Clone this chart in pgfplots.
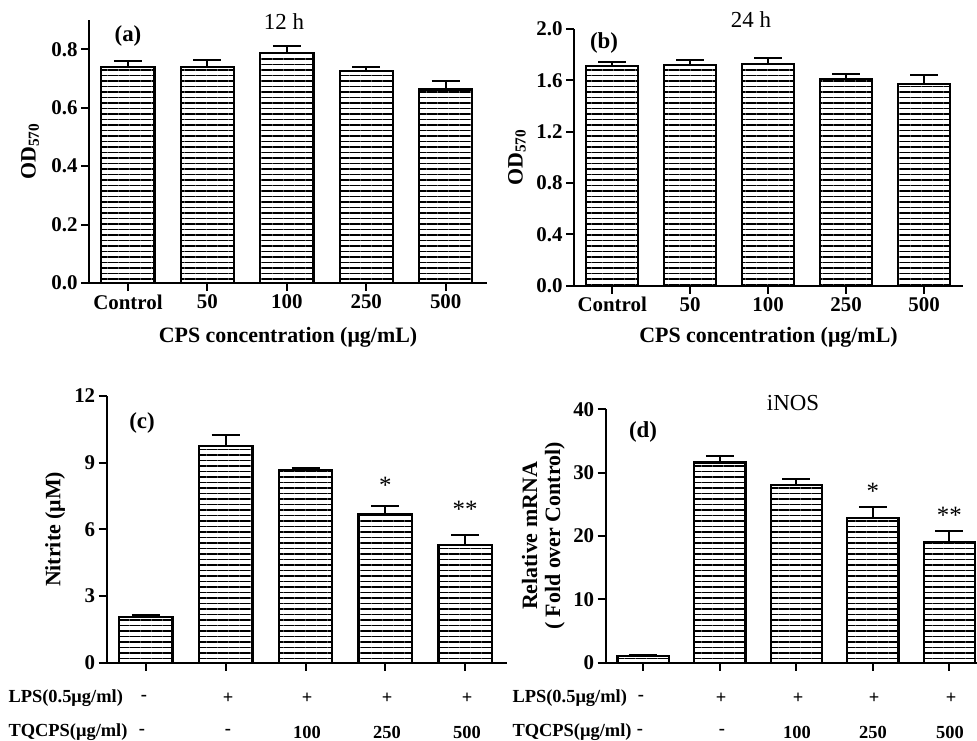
\documentclass[border=0pt]{standalone}
\usepackage{fontspec}
\setmainfont{Liberation Serif}
\usepackage{pgfplots}
\pgfplotsset{compat=1.18}
\usetikzlibrary{patterns.meta}

\pgfplotsset{
  panel/.style={
    scale only axis, anchor=south west,
    ybar, bar shift=0, bar width=0.67,
    axis x line*=bottom, axis y line*=left,
    axis line style={line width=2bp,-},
    tick align=outside, major tick length=8bp,
    every tick/.style={line width=2bp,black},
    xtick={0,1,2,3,4}, ytick pos=left, xtick pos=bottom,
    ymin=0,
    /pgf/number format/assume math mode=true,
    ticklabel style={font=\fontsize{21}{21}\selectfont\bfseries},
    label style={font=\fontsize{22}{23}\selectfont\bfseries, anchor=center},
  },
  hbar/.style={draw=black, line width=2.2bp,
    pattern={Lines[angle=0,distance=5.5bp,line width=1.1bp]}, pattern color=black,
    error bars/.cd, y dir=plus, y explicit, error mark=|,
    error bar style={line width=2bp,black},
    error mark options={line width=2bp,black,mark size=14bp}},
}

\pgfplotstableread{
x y e
0 0.738 0.022
1 0.738 0.024
2 0.788 0.022
3 0.726 0.013
4 0.662 0.029
}\dataA
\pgfplotstableread{
x y e
0 1.710 0.031
1 1.720 0.037
2 1.728 0.047
3 1.609 0.041
4 1.574 0.066
}\dataB
\pgfplotstableread{
x y e
0 2.04 0.09
1 9.76 0.49
2 8.68 0.10
3 6.67 0.40
4 5.30 0.45
}\dataC
\pgfplotstableread{
x y e
0 1.06 0.10
1 31.6 1.0
2 28.05 0.9
3 22.8 1.8
4 19.1 1.75
}\dataD

\begin{document}
\begin{tikzpicture}
\useasboundingbox (0bp,0bp) rectangle (977bp,-741bp);

% (a) 12 h
\begin{axis}[panel, at={(89bp,-283bp)}, width=398bp, height=263bp,
  xmin=-0.49, xmax=4.52, ymax=0.9,
  ytick={0,0.2,0.4,0.6,0.8},
  yticklabel style={/pgf/number format/.cd,fixed,fixed zerofill,precision=1},
  xticklabels={Control,50,100,250,500},
  ylabel={OD$_{\mathbf{570}}$}, ylabel style={at={(axis description cs:-0.148,0.5)}},
  xlabel={CPS concentration (μg/mL)}, xlabel style={at={(axis description cs:0.5,-0.205)}}]
\addplot[hbar] table[x=x,y=y,y error=e] {\dataA};
\end{axis}
\node[font=\fontsize{23}{23}\selectfont] at (284bp,-22bp) {12 h};
\node[font=\fontsize{23}{23}\selectfont\bfseries] at (128bp,-36bp) {(a)};

% (b) 24 h
\begin{axis}[panel, at={(574bp,-285.7bp)}, width=389bp, height=256.7bp,
  xmin=-0.49, xmax=4.5, ymax=2,
  ytick={0,0.4,0.8,1.2,1.6,2.0},
  yticklabel style={/pgf/number format/.cd,fixed,fixed zerofill,precision=1},
  xticklabels={Control,50,100,250,500},
  ylabel={OD$_{\mathbf{570}}$}, ylabel style={at={(axis description cs:-0.1465,0.5)}},
  xlabel={CPS concentration (μg/mL)}, xlabel style={at={(axis description cs:0.5,-0.2)}}]
\addplot[hbar] table[x=x,y=y,y error=e] {\dataB};
\end{axis}
\node[font=\fontsize{23}{23}\selectfont] at (751bp,-20bp) {24 h};
\node[font=\fontsize{23}{23}\selectfont\bfseries] at (604bp,-43bp) {(b)};

% (c) nitrite
\begin{axis}[panel, at={(106.7bp,-662.7bp)}, width=400bp, height=266.7bp,
  xmin=-0.49, xmax=4.52, ymax=12,
  ytick={0,3,6,9,12},
  xticklabels={},
  ylabel={Nitrite (μM)}, ylabel style={at={(axis description cs:-0.129,0.5)}}]
\addplot[hbar] table[x=x,y=y,y error=e] {\dataC};
\node[font=\fontsize{25}{25}\selectfont] at (axis cs:3,8.0) {*};
\node[font=\fontsize{25}{25}\selectfont] at (axis cs:4,6.9) {**};
\end{axis}
\node[font=\fontsize{23}{23}\selectfont\bfseries] at (142bp,-423bp) {(c)};

% (d) iNOS
\begin{axis}[panel, at={(605.7bp,-662.7bp)}, width=371.3bp, height=253.4bp,
  xmin=-0.49, xmax=4.36, ymax=40,
  ytick={0,10,20,30,40},
  xticklabels={},
  ylabel={Relative mRNA\\( Fold over Control)},
  ylabel style={align=center, at={(axis description cs:-0.168,0.5)}}]
\addplot[hbar] table[x=x,y=y,y error=e] {\dataD};
\node[font=\fontsize{25}{25}\selectfont] at (axis cs:3,27.0) {*};
\node[font=\fontsize{25}{25}\selectfont] at (axis cs:4,23.3) {**};
\end{axis}
\node[font=\fontsize{23}{23}\selectfont] at (793bp,-403bp) {iNOS};
\node[font=\fontsize{23}{23}\selectfont\bfseries] at (643bp,-432bp) {(d)};

% treatment rows under (c) and (d)
\begin{scope}[every node/.style={font=\fontsize{18.5}{18.5}\selectfont\bfseries}]
\node[anchor=west] at (5bp,-698bp) {LPS(0.5μg/ml)};
\node[anchor=west] at (5bp,-732bp) {TQCPS(μg/ml)};
\node at (144bp,-698bp) {-}; \node at (228bp,-698bp) {+}; \node at (307bp,-698bp) {+};
\node at (387bp,-698bp) {+}; \node at (467bp,-698bp) {+};
\node at (142bp,-732bp) {-}; \node at (228bp,-732bp) {-}; \node at (307bp,-732bp) {100};
\node at (387bp,-732bp) {250}; \node at (467bp,-732bp) {500};
\node[anchor=west] at (509bp,-698bp) {LPS(0.5μg/ml)};
\node[anchor=west] at (509bp,-732bp) {TQCPS(μg/ml)};
\node at (641bp,-698bp) {-}; \node at (721bp,-698bp) {+}; \node at (798bp,-698bp) {+};
\node at (874bp,-698bp) {+}; \node at (951bp,-698bp) {+};
\node at (640bp,-732bp) {-}; \node at (722bp,-732bp) {-}; \node at (797bp,-732bp) {100};
\node at (873bp,-732bp) {250}; \node at (950bp,-732bp) {500};
\end{scope}
\end{tikzpicture}
\end{document}
